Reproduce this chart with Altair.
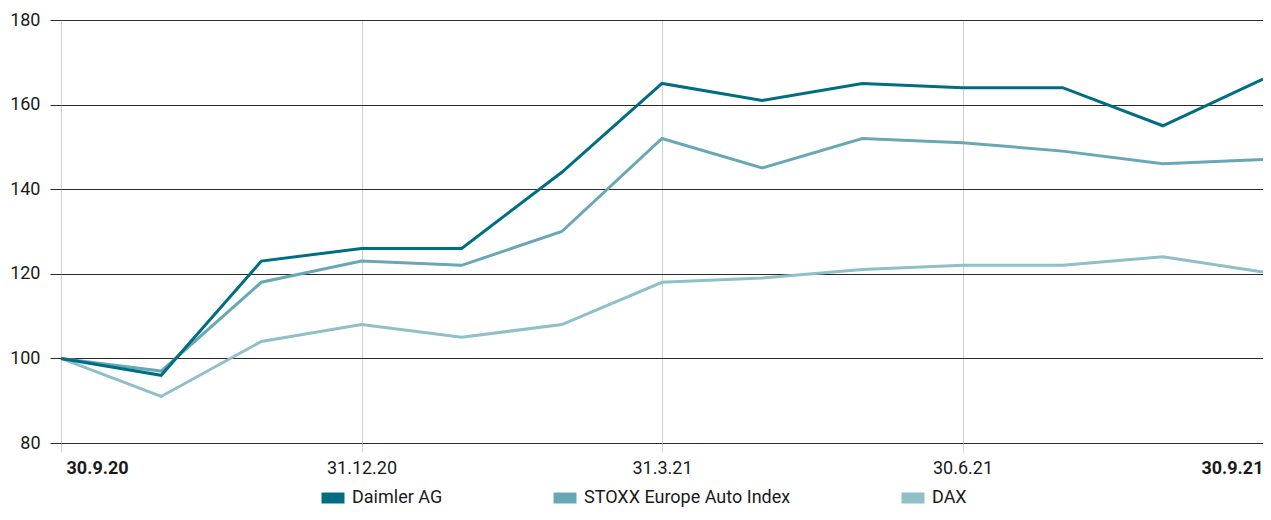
import altair as alt
import pandas as pd

months = ["30.9.20", "31.10.20", "30.11.20", "31.12.20", "31.1.21", "28.2.21",
          "31.3.21", "30.4.21", "31.5.21", "30.6.21", "31.7.21", "31.8.21", "30.9.21"]
daimler = [100, 96, 123, 126, 126, 144, 165, 161, 165, 164, 164, 155, 166]
stoxx = [100, 97, 118, 123, 122, 130, 152, 145, 152, 151, 149, 146, 147]
dax = [100, 91, 104, 108, 105, 108, 118, 119, 121, 122, 122, 124, 120.4]
series_names = ["Daimler AG", "STOXX Europe Auto Index", "DAX"]
colors = ["#006E82", "#68A8B6", "#8FBFC9"]
tick_idx = [0, 3, 6, 9, 12]
y_ticks = [80, 100, 120, 140, 160, 180]

rows = []
# draw order: DAX first, then STOXX, Daimler on top
for name, vals in [(series_names[2], dax), (series_names[1], stoxx), (series_names[0], daimler)]:
    for i, v in enumerate(vals):
        rows.append({"idx": i, "month": months[i], "series": name, "value": v})
df = pd.DataFrame(rows)

label_arr = "[" + ",".join("'" + m + "'" for m in months) + "]"

font = "Roboto"

chart = alt.Chart(df).mark_line(strokeWidth=3, strokeJoin="miter").encode(
    x=alt.X("idx:Q",
            scale=alt.Scale(domain=[0, 12], nice=False, zero=False),
            axis=alt.Axis(values=tick_idx, title=None, grid=True, gridColor="#cfcfcf",
                          gridWidth=1, domain=False, tickColor="#cfcfcf", tickSize=9,
                          labelPadding=7, labelFontSize=18, labelColor="#1a1a1a",
                          labelFont=font,
                          labelExpr=label_arr + "[datum.value]",
                          labelFontWeight=alt.ExprRef(expr="datum.value == 0 || datum.value == 12 ? 'bold' : 'normal'"),
                          labelAlign=alt.ExprRef(expr="datum.value == 0 ? 'left' : datum.value == 12 ? 'right' : 'center'"),
                          labelOffset=alt.ExprRef(expr="datum.value == 0 ? 5 : 0"),
                          labelFlush=False)),
    y=alt.Y("value:Q",
            scale=alt.Scale(domain=[80, 180], nice=False, zero=False),
            axis=alt.Axis(values=y_ticks, title=None, grid=True, gridColor="#2b2b2b",
                          gridWidth=1, domain=False, tickColor="#2b2b2b", tickSize=11,
                          labelPadding=10, labelFontSize=18, labelColor="#1a1a1a",
                          labelFont=font)),
    color=alt.Color("series:N",
                    scale=alt.Scale(domain=series_names, range=colors),
                    legend=alt.Legend(title=None, orient="none", direction="horizontal",
                                      legendX=255, legendY=461,
                                      symbolType="stroke", symbolSize=529,
                                      symbolStrokeWidth=11, labelFontSize=18,
                                      labelFont=font, labelColor="#1a1a1a",
                                      labelOffset=2, columnPadding=88,
                                      labelLimit=400)),
    detail="series:N",
).properties(
    width=1202,
    height=423,
    padding={"left": 53, "top": 12, "right": 0, "bottom": 64},
    autosize=alt.AutoSizeParams(type="none"),
).configure_view(stroke=None)

chart.save("out.html", embed_options={"renderer": "svg", "actions": False})
